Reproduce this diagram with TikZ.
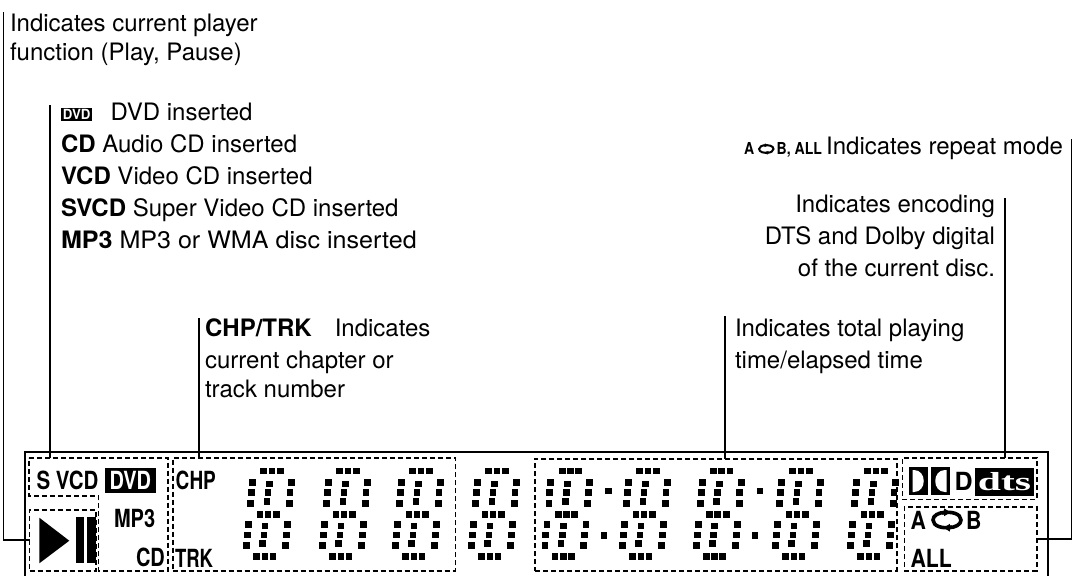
\documentclass[tikz,border=0pt]{standalone}
\usepackage{fontspec}
\setmainfont{TeX Gyre Heros}
\newfontfamily\dtsfont{Liberation Serif}
\newcommand{\cond}[2][0.8]{\scalebox{#1}[1]{#2}}
\tikzset{
  lbl/.style={inner sep=0pt,outer sep=0pt,font=\fontsize{24}{24}\selectfont,anchor=base west},
  lblr/.style={lbl,anchor=base east},
  lcd/.style={inner sep=0pt,outer sep=0pt,font=\bfseries\fontsize{25}{25}\selectfont,anchor=base west},
  dbox/.style={draw=black,line width=1.6pt,dash pattern=on 5pt off 3pt,inner sep=0pt,outer sep=0pt,anchor=north west},
  conn/.style={draw=black,line width=1.8pt},
}
% one segmented digit; #1 = x of the middle of the top bar
\newcommand{\lcddigit}[1]{%
 \begin{scope}[shift={(#1,471)}]
  \foreach \x/\y in {-8.2/0,0/0,8.2/0,
    -19.6/11.7,-2.6/13,19.4/11.7,
    -20.6/21.3,-4/21.3,18/21.3,
    -21.3/32.3,-5/30.7,17.4/32.3,
    -12/43.7,-4/43.7,4.4/43.7,
    -23.3/53.7,-7/55,15.7/53.7,
    -24.6/64,-8/64,14.4/64,
    -25.3/74.7,-9.3/72.3,13.4/74.7,
    -15.3/85.3,-7/85.3,1/85.3}
   \fill (\x-3.4,\y-3.4) rectangle (\x+3.4,\y+3.4);
 \end{scope}}
% repeat glyph; #1 = centre, #2 = half width, #3 = half height, #4 = line width
\newcommand{\repicon}[4]{%
 \begin{scope}[shift={#1},x=#2pt,y=#3pt]
  \draw[line width=#4] (0.35,-0.9) .. controls (-0.3,-1.2) and (-1,-0.8) .. (-1,0) .. controls (-1,0.6) and (-0.6,0.95) .. (-0.15,1);
  \fill (-0.2,0.5) -- (-0.2,1.5) -- (0.25,1) -- cycle;
  \draw[line width=#4] (-0.35,0.9) .. controls (0.3,1.2) and (1,0.8) .. (1,0) .. controls (1,-0.6) and (0.6,-0.95) .. (0.15,-1);
  \fill (0.2,-0.5) -- (0.2,-1.5) -- (-0.25,-1) -- cycle;
 \end{scope}}
\begin{document}
\begin{tikzpicture}[x=1pt,y=-1pt]
\useasboundingbox (0,0) rectangle (1072,576);
% display frame
\draw[line width=2.4pt] (25,576) -- (25,451.7) -- (1047.7,451.7) -- (1047.7,576);
% dashed groups
\draw[draw=black,line width=1.6pt,dash pattern=on 5pt off 3pt]
  (29,457.7) -- (168,457.7) -- (168,570.7) -- (98.3,570.7) -- (98.3,496) -- (29,496) -- cycle;
\coordinate (discbox) at (50,457.7);
\node[dbox,minimum width=66.5pt,minimum height=60.7pt] (playbox) at (29.5,510) {};
\node[dbox,minimum width=282.6pt,minimum height=113pt] (chpbox) at (172.7,457.7) {};
\node[dbox,minimum width=361.7pt,minimum height=112pt] (timebox) at (535,458.7) {};
\node[dbox,minimum width=134.4pt,minimum height=41.6pt] (codecbox) at (902.3,457.7) {};
\node[dbox,minimum width=132.4pt,minimum height=64pt] (repbox) at (904.3,506.7) {};
% digits
\foreach \d in {272,348,421,497,570.3,648,721.7,801,876} {\lcddigit{\d}}
\foreach \x/\y in {608.3/491,604/535.7,760/491,755/535.7}
  \fill (\x-3.4,\y-3.4) rectangle (\x+3.4,\y+3.4);
% disc indicators
\node[lcd] (svcd) at (36.5,489) {\cond[0.82]{S VCD}};
\node[fill=black,text=white,inner sep=0pt,minimum width=50.7pt,minimum height=24.4pt,font=\bfseries\fontsize{25}{25}\selectfont] (dvdlcd) at (130.3,480.5) {\cond[0.8]{DVD}};
\node[lcd] (mp3) at (114,527) {\cond[0.8]{MP3}};
\node[lcd] (cdlcd) at (136,566) {\cond[0.8]{CD}};
\node[lcd] (chp) at (175.7,489) {\cond[0.76]{CHP}};
\node[lcd] (trk) at (175,567) {\cond[0.74]{TRK}};
% play / pause
\fill (39.3,517.7) -- (39.3,563.3) -- (69.3,540.7) -- cycle;
\fill (75.7,516.7) rectangle (84.3,563.3);
\fill (87.3,516.7) rectangle (96,563.3);
% Dolby / dts
\fill (909.3,467.3) rectangle (928.3,495.3);
\fill[white] (912.7,470) -- (914,470) .. controls (927,470) and (927,492) .. (914,492) -- (912.7,492) -- cycle;
\fill (931,467.3) rectangle (950,495.3);
\fill[white] (946.7,470) -- (945,470) .. controls (932,470) and (932,492) .. (945,492) -- (946.7,492) -- cycle;
\node[lcd] (dolbyd) at (954.5,490) {\cond[1.0]{D}};
\node[fill=black,inner sep=0pt,minimum width=59pt,minimum height=28pt] (dtsbox) at (1004.5,481.5) {\scalebox{1.6}[1]{\dtsfont\bfseries\fontsize{26}{26}\selectfont\textcolor{white}{dts}}};
% repeat
\node[lcd] (ra) at (910.5,529) {\cond[0.85]{A}};
\repicon{(947,520)}{14}{7.7}{3.6pt}
\node[lcd] (rb) at (966,529) {\cond[0.85]{B}};
\node[lcd] (rall) at (910.5,567) {\cond[0.85]{ALL}};
% captions
\node[lbl] (playtxt1) at (10,31.7) {Indicates current player};
\node[lbl] (playtxt2) at (10,60) {function (Play, Pause)};
\node[fill=black,text=white,inner sep=0pt,minimum width=31pt,minimum height=13pt,font=\bfseries\fontsize{14}{14}\selectfont] (dvdicon) at (76.7,114) {\cond[0.95]{DVD}};
\node[lbl] (t1) at (110.7,120.5) {DVD inserted};
\node[lbl] (t2) at (61,152) {\textbf{CD} Audio CD inserted};
\node[lbl] (t3) at (61,184) {\textbf{VCD} Video CD inserted};
\node[lbl] (t4) at (61,216) {\textbf{SVCD} Super Video CD inserted};
\node[lbl] (t5) at (61,248) {\cond[1.045]{\textbf{MP3} MP3 or WMA disc inserted}};
\node[lbl] (c1) at (205,336.5) {\textbf{CHP/TRK}\hspace{23pt}Indicates};
\node[lbl] (c2) at (205,368) {current chapter or};
\node[lbl] (c3) at (205,397) {track number};
\node[lbl] (e1) at (735,336.5) {Indicates total playing};
\node[lbl] (e2) at (735,368) {time/elapsed time};
\node[lblr] (r1) at (1063,154.5) {Indicates repeat mode};
\node[inner sep=0pt,anchor=base west,font=\bfseries\fontsize{16.5}{16.5}\selectfont] (rs1) at (744,154.5) {\cond[0.85]{A}};
\repicon{(766.3,149)}{7.2}{3.8}{2pt}
\node[inner sep=0pt,anchor=base west,font=\bfseries\fontsize{16.5}{16.5}\selectfont] (rs2) at (776.5,154.5) {\cond[0.85]{B, ALL}};
\node[lblr] (d1) at (995,212) {Indicates encoding};
\node[lblr] (d2) at (995,244) {DTS and Dolby digital};
\node[lblr] (d3) at (995,276) {of the current disc.};
% connector free ends
\coordinate (p0) at (3.5,12);
\coordinate (q0) at (50,105);
\coordinate (s0) at (199,318);
\coordinate (u0) at (725,316);
\coordinate (v0) at (1005,198);
\coordinate (w0) at (1071.5,139);
% connectors
\draw[conn] (p0) -- (p0 |- playbox.west) -- (playbox.west);
\draw[conn] (q0) -- (discbox);
\draw[conn] (s0) -- (s0 |- chpbox.north);
\draw[conn] (u0) -- (u0 |- timebox.north);
\draw[conn] (v0) -- (v0 |- codecbox.north);
\draw[conn] (w0) -- (w0 |- repbox.east) -- (repbox.east);
\end{tikzpicture}
\end{document}
